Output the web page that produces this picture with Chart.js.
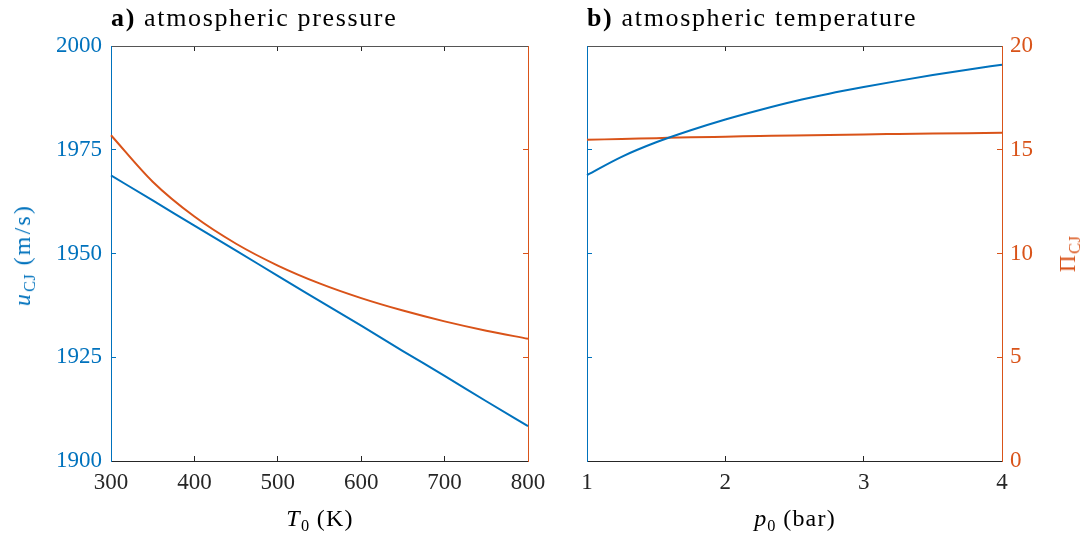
<!DOCTYPE html>
<html>
<head>
<meta charset="utf-8">
<script src="https://cdn.jsdelivr.net/npm/chart.js@4.4.1/dist/chart.umd.min.js"></script>
<style>
  body { margin: 0; background: #fff; width: 1081px; height: 538px; position: relative; overflow: hidden;
         font-family: "Liberation Serif", serif; }
  canvas { position: absolute; top: 0; }
  .t { position: absolute; white-space: nowrap; line-height: 1; font-size: 24px; color: #000; letter-spacing: 1.2px; }
  .t sub { font-size: 0.68em; vertical-align: -0.3em; line-height: 0; font-style: normal; letter-spacing: 0.5px; }
  .rot { transform: translate(-50%, -50%) rotate(-90deg); }
</style>
</head>
<body>
<canvas id="chartA" width="575" height="538" style="left:0"></canvas>
<canvas id="chartB" width="541" height="538" style="left:540px"></canvas>

<div class="t" style="left:111px; top:5px; font-size:26px; letter-spacing:1.65px"><b>a)</b> atmospheric pressure</div>
<div class="t" style="left:587px; top:5px; font-size:26px; letter-spacing:1.65px"><b>b)</b> atmospheric temperature</div>
<div class="t" style="left:320px; top:506px; transform:translateX(-50%)"><i>T</i><sub>0</sub> (K)</div>
<div class="t" style="left:795px; top:506px; transform:translateX(-50%)"><i>p</i><sub>0</sub> (bar)</div>
<div class="t rot" style="left:22px; top:255px; color:#0072BD; letter-spacing:2.2px"><i>u</i><sub>CJ</sub> (m/s)</div>
<div class="t rot" style="left:1067px; top:254px; color:#D95319">&Pi;<sub>CJ</sub></div>

<script>
// values
const T0 = [300, 350, 400, 450, 500, 550, 600, 650, 700, 750, 800];
const uCJ_T = [1968.8, 1962.8, 1956.7, 1950.7, 1944.6, 1938.6, 1932.6, 1926.5, 1920.5, 1914.4, 1908.4];
const piCJ_T = [15.70, 13.46, 11.78, 10.47, 9.42, 8.56, 7.85, 7.25, 6.73, 6.28, 5.89];

const p0 = [1, 1.25, 1.5, 1.75, 2, 2.25, 2.5, 2.75, 3, 3.25, 3.5, 3.75, 4];
const uCJ_p = [1968.9, 1973.3, 1976.8, 1979.7, 1982.3, 1984.6, 1986.7, 1988.5, 1990.1, 1991.6, 1993.0, 1994.3, 1995.5];
const piCJ_p = [15.48, 15.52, 15.56, 15.60, 15.63, 15.66, 15.69, 15.71, 15.74, 15.76, 15.78, 15.80, 15.82];

const uTicks = [1900, 1925, 1950, 1975, 2000];
const piTicks = [0, 5, 10, 15, 20];

const BLUE = "#0072BD";
const ORANGE = "#D95319";
const AX = "#262626";

Chart.defaults.font.family = "Liberation Serif";
Chart.defaults.font.size = 23;

const pts = (xs, ys) => xs.map((x, i) => ({ x: x, y: ys[i] }));

function lineSet(data, color, axis) {
    return {
        data: data,
        yAxisID: axis,
        borderColor: color,
        borderWidth: 2,
        pointRadius: 0,
        cubicInterpolationMode: "monotone",
        clip: 3
    };
}

// builds the four axes of a panel, sizes fixed so the plot box lands where it should
function makeScales(xMin, xMax, xStep, box, showLeft, showRight) {
    const fixW = w => s => { s.width = w; s.paddingTop = 0; s.paddingBottom = 0; };
    const fixH = h => s => { s.height = h; s.paddingLeft = 0; s.paddingRight = 0; };
    const inTicks = color => ({ drawOnChartArea: false, tickLength: -5, tickColor: color, lineWidth: 1 });
    return {
        x: {
            type: "linear", position: "bottom", min: xMin, max: xMax,
            ticks: { stepSize: xStep, color: AX, padding: 13, maxRotation: 0, callback: v => v },
            grid: inTicks(AX), border: { color: AX, width: 1 },
            afterFit: fixH(box.bottom)
        },
        x2: {
            type: "linear", position: "top", min: xMin, max: xMax,
            ticks: { stepSize: xStep, display: false },
            grid: inTicks(AX), border: { color: "#555", width: 1 },
            afterFit: fixH(box.top)
        },
        y: {
            type: "linear", position: "left", min: 1900, max: 2000,
            afterBuildTicks: s => { s.ticks = uTicks.map(v => ({ value: v })); },
            ticks: { display: showLeft, color: BLUE, padding: 14, callback: v => v },
            grid: inTicks(BLUE), border: { color: BLUE, width: 1 },
            afterFit: fixW(box.left)
        },
        y1: {
            type: "linear", position: "right", min: 0, max: 20,
            afterBuildTicks: s => { s.ticks = piTicks.map(v => ({ value: v })); },
            ticks: { display: showRight, color: ORANGE, padding: 13, callback: v => v },
            grid: inTicks(ORANGE), border: { color: ORANGE, width: 1 },
            afterFit: fixW(box.right)
        }
    };
}

function baseOptions(scales) {
    return {
        responsive: false,
        animation: false,
        layout: { padding: 0 },
        plugins: { legend: { display: false }, tooltip: { enabled: false } },
        scales: scales
    };
}

// panel a: varying T0
new Chart(document.getElementById("chartA"), {
    type: "line",
    data: {
        datasets: [
            lineSet(pts(T0, uCJ_T), BLUE, "y"),
            lineSet(pts(T0, piCJ_T), ORANGE, "y1")
        ]
    },
    options: baseOptions(makeScales(300, 800, 100, { left: 111, right: 47, top: 46, bottom: 77 }, true, false))
});

// panel b: varying p0
new Chart(document.getElementById("chartB"), {
    type: "line",
    data: {
        datasets: [
            lineSet(pts(p0, uCJ_p), BLUE, "y"),
            lineSet(pts(p0, piCJ_p), ORANGE, "y1")
        ]
    },
    options: baseOptions(makeScales(1, 4, 1, { left: 47, right: 79, top: 46, bottom: 77 }, false, true))
});
</script>
</body>
</html>
